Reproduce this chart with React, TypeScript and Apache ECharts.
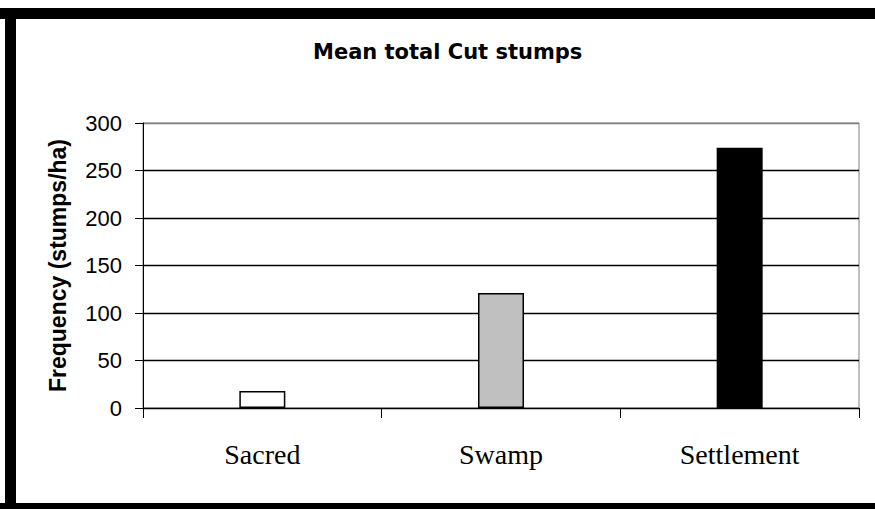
import React, { useEffect, useRef } from "react";
import * as echarts from "echarts";

const categories = ["Sacred", "Swamp", "Settlement"];
const values = [18, 121, 274];
const barColors = ["#ffffff", "#c0c0c0", "#000000"];
const titleText = "Mean total Cut stumps";
const yAxisName = "Frequency (stumps/ha)";

export default function App() {
  const ref = useRef<HTMLDivElement>(null);
  useEffect(() => {
    if (!ref.current) return;
    const chart = echarts.init(ref.current, undefined, { renderer: "svg" });
    chart.setOption({
      animation: false,
      backgroundColor: "#ffffff",
      title: {
        text: titleText,
        left: 308,
        top: 36,
        textStyle: {
          fontFamily: "DejaVu Sans",
          fontWeight: "bold",
          fontSize: 21,
          color: "#000",
        },
      },
      grid: {
        left: 143,
        right: 16,
        top: 123,
        bottom: 101,
        show: true,
        borderColor: "#808080",
        borderWidth: 1,
        backgroundColor: "transparent",
      },
      xAxis: {
        type: "category",
        data: categories,
        axisLine: { show: true, lineStyle: { color: "#000", width: 1 } },
        axisTick: { show: true, length: 10, lineStyle: { color: "#000" } },
        axisLabel: {
          margin: 32,
          fontFamily: "Liberation Serif",
          fontSize: 28,
          color: "#000",
        },
      },
      yAxis: {
        type: "value",
        min: 0,
        max: 300,
        interval: 50,
        name: yAxisName,
        nameLocation: "middle",
        nameGap: 74,
        nameTextStyle: {
          fontFamily: "Liberation Sans",
          fontWeight: "bold",
          fontSize: 23,
          color: "#000",
        },
        axisLine: { show: true, lineStyle: { color: "#000", width: 1 } },
        axisTick: { show: true, length: 8, lineStyle: { color: "#000" } },
        axisLabel: {
          margin: 21,
          fontFamily: "Liberation Sans",
          fontSize: 22,
          color: "#000",
        },
        splitLine: {
          show: true,
          lineStyle: {
            color: ["#000", "#000", "#000", "#000", "#000", "#000", "#808080"],
            width: 1.3,
          },
        },
      },
      series: [
        {
          type: "bar",
          barWidth: 46,
          data: values.map((v, i) => ({
            value: v,
            itemStyle: {
              color: barColors[i],
              borderColor: "#000",
              borderWidth: 1.5,
            },
          })),
        },
      ],
      graphic: [
        { type: "rect", shape: { x: 0, y: 8, width: 875, height: 11 }, style: { fill: "#000" }, z: 100 },
        { type: "rect", shape: { x: 5, y: 8, width: 11, height: 501 }, style: { fill: "#000" }, z: 100 },
        { type: "rect", shape: { x: 0, y: 503, width: 875, height: 6 }, style: { fill: "#000" }, z: 100 },
      ],
    });
    return () => chart.dispose();
  }, []);
  return (
    <div
      ref={ref}
      style={{ position: "fixed", left: 0, top: 0, width: 875, height: 509 }}
    />
  );
}
